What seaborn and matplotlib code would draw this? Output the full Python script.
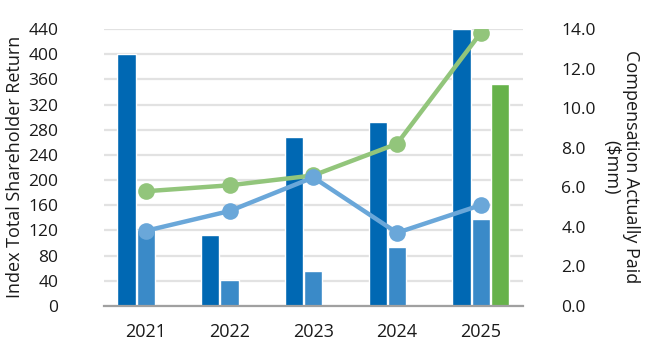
import numpy as np
import pandas as pd
import matplotlib
matplotlib.use("Agg")
import matplotlib.pyplot as plt
import seaborn as sns

years = ["2021", "2022", "2023", "2024", "2025"]
tsr_series = ["Company TSR", "Peer Group TSR", "New Index TSR"]
company_tsr = [400, 112, 268, 293, 440]
peer_tsr = [120, 42, 55, 93, 138]
new_index_tsr = [np.nan, np.nan, np.nan, np.nan, 352]
peo_cap = [5.8, 6.1, 6.6, 8.2, 13.8]
neo_cap = [3.8, 4.8, 6.5, 3.7, 5.1]
left_ticks = list(range(0, 441, 40))
right_ticks = [0, 2, 4, 6, 8, 10, 12, 14]

bar_colors = ["#0068B3", "#3A8AC8", "#66B24A"]
peo_color = "#92C57B"
neo_color = "#6AA7D9"

sns.set_theme(style="white")
plt.rcParams["font.family"] = ["Open Sans", "DejaVu Sans"]
text_color = "#1a1a1a"

df = pd.DataFrame({
    "year": years * 3,
    "series": [tsr_series[0]] * 5 + [tsr_series[1]] * 5 + [tsr_series[2]] * 5,
    "value": company_tsr + peer_tsr + new_index_tsr,
})

fig = plt.figure(figsize=(6.52, 3.44), dpi=100)
ax = fig.add_axes([104 / 652, 38 / 344, 418.6 / 652, 277 / 344])

sns.barplot(data=df, x="year", y="value", hue="series", order=years,
            hue_order=tsr_series, palette=bar_colors, width=0.69, gap=0.05,
            errorbar=None, ax=ax, legend=False, saturation=1)
ax.set_ylim(0, 440)
ax.set_yticks(left_ticks)
ax.set_xlim(-0.5, 4.5)
ax.yaxis.grid(True, color="#E2E2E2", linewidth=1.6)
ax.set_axisbelow(True)
for s in ["left", "right", "top"]:
    ax.spines[s].set_visible(False)
ax.spines["bottom"].set_color("#A0A0A0")
ax.spines["bottom"].set_linewidth(1.6)
ax.tick_params(axis="y", length=0, pad=33, labelsize=12.5, labelcolor=text_color)
ax.tick_params(axis="x", length=0, pad=12, labelsize=13, labelcolor=text_color)
ax.set_xlabel("")
ax.set_ylabel("")

ax2 = ax.twinx()
sns.pointplot(x=years, y=peo_cap, ax=ax2, color=peo_color, markers="o",
              markersize=12, linewidth=3.2, markeredgewidth=0, errorbar=None)
sns.pointplot(x=years, y=neo_cap, ax=ax2, color=neo_color, markers="o",
              markersize=12, linewidth=3.2, markeredgewidth=0, errorbar=None)
ax2.set_ylim(0, 14)
ax2.set_yticks(right_ticks)
ax2.set_yticklabels([f"{v:.1f}" for v in right_ticks])
ax2.set_xlim(-0.5, 4.5)
ax2.grid(False)
for s in ["left", "right", "top", "bottom"]:
    ax2.spines[s].set_visible(False)
ax2.tick_params(axis="y", length=0, pad=28, labelsize=12.5, labelcolor=text_color)
ax2.set_ylabel("")
ax2.set_xlabel("")

fig.text(15 / 652, 1 - 167 / 344, "Index Total Shareholder Return", rotation=90,
         ha="center", va="center", fontsize=13, color=text_color)
fig.text(621 / 652, 1 - 167 / 344, "Compensation Actually Paid\n($mm)", rotation=270,
         ha="center", va="center", fontsize=13, color=text_color,
         multialignment="center", linespacing=1.1)

fig.savefig("out.png", dpi=100)
